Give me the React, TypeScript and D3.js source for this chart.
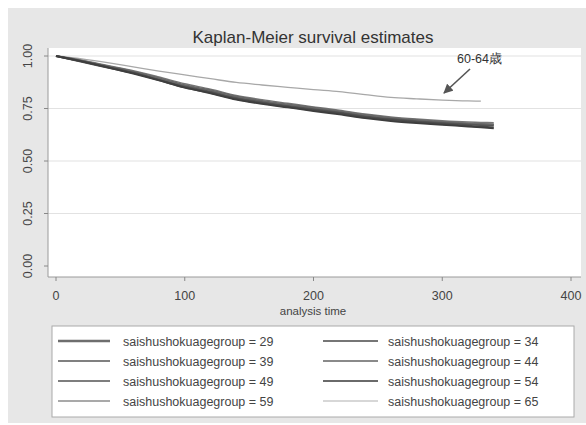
import { useMemo } from 'react';
import * as d3 from 'd3';

const W = 586;
const H = 425;

const TIMES = [0, 20, 40, 60, 80, 100, 120, 140, 160, 180, 200, 220, 240, 260, 280, 300, 320, 330, 340];
const GROUPS = ['29', '34', '39', '44', '49', '54', '59', '65'];
const S29 = [1, .975, .948, .92, .885, .85, .825, .795, .775, .758, .742, .727, .708, .695, .685, .676, .668, .664, .66];
const S34 = [1, .972, .945, .918, .888, .855, .83, .8, .78, .762, .747, .732, .713, .7, .69, .681, .674, .671, .668];
const S39 = [1, .978, .952, .926, .895, .862, .838, .808, .787, .77, .754, .738, .72, .706, .696, .687, .68, .677, .675];
const S44 = [1, .976, .95, .922, .89, .858, .832, .803, .782, .765, .75, .735, .716, .703, .693, .684, .677, .674, .672];
const S49 = [1, .98, .955, .93, .9, .868, .842, .812, .792, .775, .758, .742, .724, .71, .7, .692, .686, .684, .682];
const S54 = [1, .974, .946, .916, .884, .85, .822, .792, .772, .755, .738, .722, .704, .69, .68, .672, .664, .66, .655];
const S59 = [1, .986, .968, .948, .928, .91, .892, .874, .862, .851, .84, .83, .816, .803, .796, .79, .786, .785, null];
const S65 = [1, .977, .95, .924, .893, .86, .835, .806, .785, .768, .752, .736, .718, .704, .694, .686, .679, .676, .674];
const SERIES = [S29, S34, S39, S44, S49, S54, S59, S65];

const X_TICKS = [0, 100, 200, 300, 400];
const Y_TICKS = [0, 0.25, 0.5, 0.75, 1];
const GRID_Y = [0.25, 0.5, 0.75, 1];

const LINE_COLORS = ['#4a4a4a', '#555', '#666', '#707070', '#777', '#3e3e3e', '#a8a8a8', '#8a8a8a'];
const LINE_WIDTHS = [2, 1.8, 1.6, 1.5, 1.4, 1.8, 1.3, 1.2];
const LEGEND_COLORS = ['#6e6e6e', '#767676', '#808080', '#8a8a8a', '#7e7e7e', '#6a6a6a', '#8c8c8c', '#b0b0b0'];
const LEGEND_WIDTHS = [2.4, 2.2, 2, 1.8, 1.8, 2.2, 1.4, 1.2];

const FONT = '"Liberation Sans", Arial, sans-serif';

export default function App() {
  const x = useMemo(() => d3.scaleLinear().domain([0, 400]).range([56, 571]), []);
  const y = useMemo(() => d3.scaleLinear().domain([0, 1]).range([266, 56]), []);
  const plot = { left: 48, right: 581, top: 48, bottom: 277 };

  const line = d3.line<number | null>()
    .defined((d) => d !== null)
    .x((_, i) => x(TIMES[i]))
    .y((d) => y(d as number))
    .curve(d3.curveMonotoneX);

  const order = [6, 7, 4, 2, 3, 1, 0, 5];

  return (
    <div style={{ position: 'absolute', left: 0, top: 0 }}>
      <svg width={W} height={H} style={{ display: 'block', fontFamily: FONT }}>
        <rect x={0} y={0} width={W} height={H} fill="#fff" />
        <rect x={8} y={8} width={W - 8} height={H - 10} fill="#e7e7e7" />
        <text x={313} y={43} textAnchor="middle" fontSize={17} fill="#333">Kaplan-Meier survival estimates</text>

        <rect x={plot.left} y={plot.top} width={plot.right - plot.left} height={plot.bottom - plot.top} fill="#fff" />
        {GRID_Y.map((t) => (
          <line key={t} x1={plot.left} x2={plot.right} y1={y(t)} y2={y(t)} stroke="#e2e2e2" strokeWidth={1.2} />
        ))}
        <line x1={plot.left} x2={plot.left} y1={plot.top} y2={plot.bottom} stroke="#9a9a9a" />
        <line x1={plot.left} x2={plot.right} y1={plot.bottom} y2={plot.bottom} stroke="#9a9a9a" />

        {Y_TICKS.map((t) => (
          <g key={t}>
            <line x1={plot.left - 4} x2={plot.left} y1={y(t)} y2={y(t)} stroke="#888" />
            <text transform={`translate(32,${y(t)}) rotate(-90)`} textAnchor="middle" fontSize={12.5} fill="#444">
              {d3.format('.2f')(t)}
            </text>
          </g>
        ))}
        {X_TICKS.map((t) => (
          <g key={t}>
            <line x1={x(t)} x2={x(t)} y1={plot.bottom} y2={plot.bottom + 4} stroke="#888" />
            <text x={x(t)} y={300} textAnchor="middle" fontSize={12.5} fill="#444">{t}</text>
          </g>
        ))}
        <text x={313} y={315} textAnchor="middle" fontSize={11.5} fill="#444">analysis time</text>

        {order.map((i) => (
          <path key={GROUPS[i]} d={line(SERIES[i]) ?? ''} fill="none" stroke={LINE_COLORS[i]} strokeWidth={LINE_WIDTHS[i]} />
        ))}

        <text x={457} y={63} fontSize={12.5} fill="#333">60-64歳</text>
        <defs>
          <marker id="arr" viewBox="0 0 10 10" refX="9" refY="5" markerWidth="6" markerHeight="6" orient="auto">
            <path d="M0,0 L10,5 L0,10 z" fill="#555" />
          </marker>
        </defs>
        <line x1={470} y1={69} x2={444} y2={93} stroke="#555" strokeWidth={1.6} markerEnd="url(#arr)" />

        <rect x={52} y={326} width={522} height={91} fill="#fff" stroke="#aaa" />
        {GROUPS.map((g, i) => {
          const col = i % 2;
          const row = Math.floor(i / 2);
          const ly = 341 + row * 20;
          const lx0 = col === 0 ? 58 : 323;
          const lx1 = col === 0 ? 110 : 378;
          const tx = col === 0 ? 123 : 388;
          return (
            <g key={g}>
              <line x1={lx0} x2={lx1} y1={ly} y2={ly} stroke={LEGEND_COLORS[i]} strokeWidth={LEGEND_WIDTHS[i]} />
              <text x={tx} y={ly + 4.5} fontSize={12.5} fill="#444">saishushokuagegroup = {g}</text>
            </g>
          );
        })}
      </svg>
    </div>
  );
}
